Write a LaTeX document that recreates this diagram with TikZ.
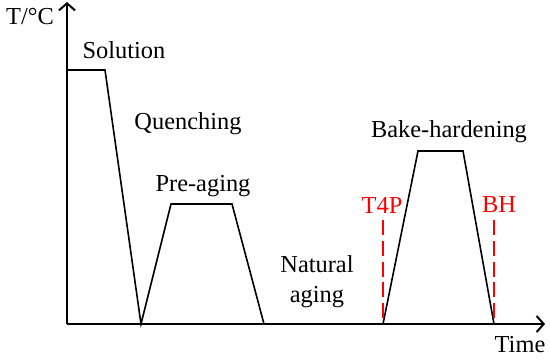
\documentclass[tikz,border=0pt]{standalone}
\usepackage{fontspec}
\setmainfont{Liberation Serif}
\usetikzlibrary{arrows.meta}
\begin{document}
\begin{tikzpicture}[x=0.5pt,y=-0.5pt,
  axis/.style={line width=1pt,-{Straight Barb[length=3.5pt,width=8pt,line width=1pt]}},
  curve/.style={line width=0.8pt,line join=miter},
  redline/.style={line width=1pt,red,dash pattern=on 7.5pt off 2.9pt},
  lbl/.style={font=\fontsize{12.2}{14}\selectfont,inner sep=0pt},
  rlbl/.style={lbl,text=red}]
\useasboundingbox (0,0) rectangle (550,361);
% axes
\coordinate (O) at (67,324);
\coordinate (Ytop) at (67,2);
\coordinate (Xend) at (545,324);
% curve points
\coordinate (s1) at (67,70);
\coordinate (s2) at (105,70);
\coordinate (q) at (141,324);
\coordinate (p1) at (171,204);
\coordinate (p2) at (232,204);
\coordinate (p3) at (264,324);
\coordinate (b0) at (383,324);
\coordinate (b1) at (418,151);
\coordinate (b2) at (463,151);
\coordinate (b3) at (494,324);
\coordinate (t4top) at (383,220);
\coordinate (bhtop) at (494,220);
\draw[curve] (s1) -- (s2) -- (q) -- (p1) -- (p2) -- (p3);
\draw[curve] (b0) -- (b1) -- (b2) -- (b3);
\draw[redline] (t4top) -- (b0);
\draw[redline] (bhtop) -- (b3);
\draw[axis] (O) -- (Ytop);
\draw[axis] (O) -- (Xend);
% labels
\node[lbl] (tc) at (30,16) {T/\textdegree C};
\node[lbl] (sol) at (124,50) {Solution};
\node[lbl] (que) at (188,124) {Quenching};
\node[lbl] (pre) at (203,186) {Pre-aging};
\node[lbl,align=center] (nat) at (317,282) {Natural\\[1pt]aging};
\node[lbl] (bake) at (449,132) {Bake-hardening};
\node[rlbl] (t4p) at (382,205) {T4P};
\node[rlbl] (bh) at (499,205) {BH};
\node[lbl] (time) at (520,345) {Time};
\end{tikzpicture}
\end{document}
